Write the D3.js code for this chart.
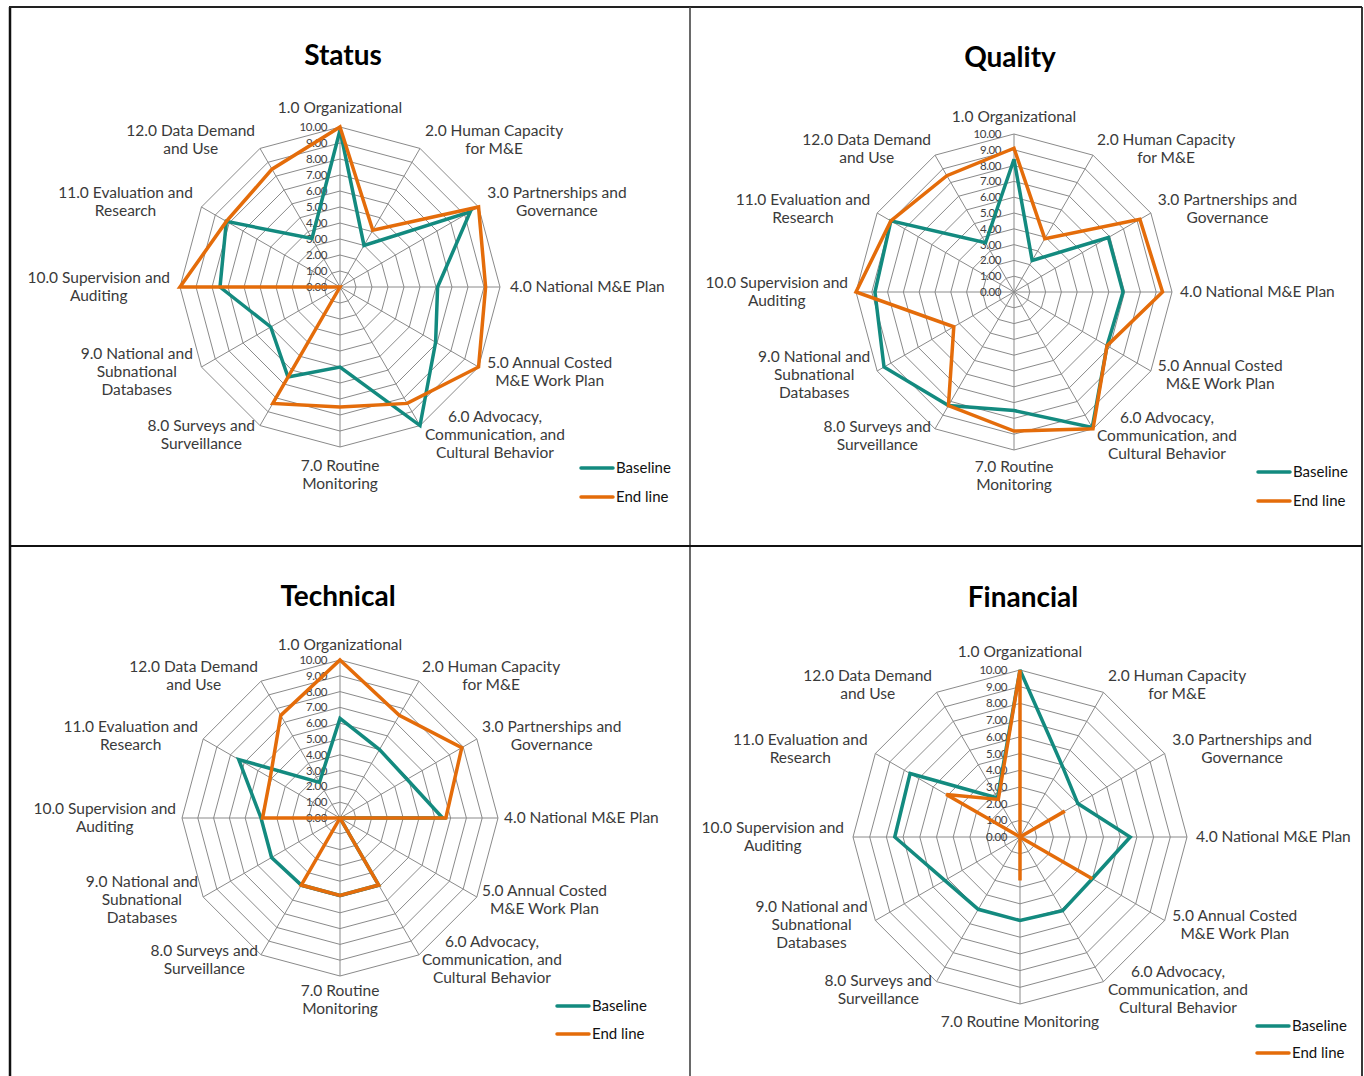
<!DOCTYPE html>
<html>
<head>
<meta charset="utf-8">
<script src="https://cdnjs.cloudflare.com/ajax/libs/d3/7.8.5/d3.min.js"></script>
<style>
  html, body { margin: 0; padding: 0; background: #ffffff; }
  svg { display: block; }
</style>
</head>
<body>
<svg id="chart" width="1364" height="1076"></svg>
<script>
// ---------------- DATA ----------------
const categories = [
  "1.0 Organizational",
  "2.0 Human Capacity for M&E",
  "3.0 Partnerships and Governance",
  "4.0 National M&E Plan",
  "5.0 Annual Costed M&E Work Plan",
  "6.0 Advocacy, Communication, and Cultural Behavior",
  "7.0 Routine Monitoring",
  "8.0 Surveys and Surveillance",
  "9.0 National and Subnational Databases",
  "10.0 Supervision and Auditing",
  "11.0 Evaluation and Research",
  "12.0 Data Demand and Use"
];
const categoryLines = [
  ["1.0 Organizational"],
  ["2.0 Human Capacity", "for M&E"],
  ["3.0 Partnerships and", "Governance"],
  ["4.0 National M&E Plan"],
  ["5.0 Annual Costed", "M&E Work Plan"],
  ["6.0 Advocacy,", "Communication, and", "Cultural Behavior"],
  ["7.0 Routine", "Monitoring"],
  ["8.0 Surveys and", "Surveillance"],
  ["9.0 National and", "Subnational", "Databases"],
  ["10.0 Supervision and", "Auditing"],
  ["11.0 Evaluation and", "Research"],
  ["12.0 Data Demand", "and Use"]
];
const categoryLinesFinancial = categoryLines.map((l, i) => i === 6 ? ["7.0 Routine Monitoring"] : l);

const seriesNames = ["Baseline", "End line"];
const tickValues = [0, 1, 2, 3, 4, 5, 6, 7, 8, 9, 10];
const tickLabels = ["0.00", "1.00", "2.00", "3.00", "4.00", "5.00", "6.00", "7.00", "8.00", "9.00", "10.00"];

const statusBaseline    = [9.8, 3.0, 9.4, 6.1, 6.9, 10.0, 5.0, 6.5, 5.0, 7.5, 8.2, 3.5];
const statusEndline     = [10.0, 4.1, 10.0, 9.1, 10.0, 8.4, 7.5, 8.4, 0.0, 10.0, 8.2, 8.5];
const qualityBaseline   = [8.4, 2.3, 6.9, 6.9, 6.8, 9.9, 7.5, 8.3, 9.5, 8.8, 9.0, 3.6];
const qualityEndline    = [9.1, 3.9, 9.2, 9.4, 6.8, 10.0, 8.8, 8.3, 4.4, 10.0, 9.0, 8.5];
const technicalBaseline = [6.3, 5.0, 4.9, 6.5, 0.0, 4.9, 4.9, 4.9, 5.0, 5.0, 7.4, 2.6];
const technicalEndline  = [10.0, 7.5, 8.9, 6.7, 0.0, 4.9, 4.9, 4.9, 0.0, 4.9, 5.1, 7.5];
const financialBaseline = [10.0, 5.0, 4.0, 6.6, 5.0, 5.1, 5.0, 5.0, 5.2, 7.5, 7.6, 2.7];
const financialEndline  = [10.0, 0.0, 3.1, 0.0, 5.0, 0.0, 2.6, 0.0, 0.0, 0.0, 5.1, 2.6];

// ---------------- LAYOUT ----------------
const colors = ["#138a7f", "#e46c0a"];
const gridColor = "#8a8a8a";
const labelFont = "Lato, 'Open Sans', sans-serif";

const panels = [
  { title: "Status",    tx: 343,  ty: 55,  cx: 340,  cy: 287, r: 160, gap: 10, lx: 581,  ly: 468, ldy: 29,
    values: [statusBaseline, statusEndline], labels: categoryLines },
  { title: "Quality",   tx: 1010, ty: 57,  cx: 1014, cy: 292, r: 158, gap: 8, lx: 1258, ly: 472, ldy: 29,
    values: [qualityBaseline, qualityEndline], labels: categoryLines },
  { title: "Technical", tx: 338,  ty: 596, cx: 340,  cy: 818, r: 158, gap: 6, lx: 557,  ly: 1006, ldy: 28,
    values: [technicalBaseline, technicalEndline], labels: categoryLines },
  { title: "Financial", tx: 1023, ty: 597, cx: 1020, cy: 837, r: 167, gap: 9, lx: 1257, ly: 1026, ldy: 27,
    values: [financialBaseline, financialEndline], labels: categoryLinesFinancial }
];

const svg = d3.select("#chart");

// frame
const frame = svg.append("g");
frame.append("line").attr("x1", 10).attr("y1", 7).attr("x2", 10).attr("y2", 1076)
  .attr("stroke", "#111").attr("stroke-width", 2.5);
frame.append("line").attr("x1", 9).attr("y1", 7).attr("x2", 1362).attr("y2", 7)
  .attr("stroke", "#222").attr("stroke-width", 1.8);
frame.append("line").attr("x1", 1362).attr("y1", 7).attr("x2", 1362).attr("y2", 1076)
  .attr("stroke", "#222").attr("stroke-width", 1.8);
frame.append("line").attr("x1", 690).attr("y1", 7).attr("x2", 690).attr("y2", 1076)
  .attr("stroke", "#444").attr("stroke-width", 1.6);
frame.append("line").attr("x1", 10).attr("y1", 546).attr("x2", 1362).attr("y2", 546)
  .attr("stroke", "#111").attr("stroke-width", 2);

const n = categories.length;
const angle = d3.scaleLinear().domain([0, n]).range([0, 2 * Math.PI]);

panels.forEach(p => {
  const g = svg.append("g").attr("transform", `translate(${p.cx},${p.cy})`);
  const rScale = d3.scaleLinear().domain([0, 10]).range([0, p.r]);

  // rings
  const ringLine = d3.lineRadial()
    .angle((d, i) => angle(i))
    .radius(d => rScale(d))
    .curve(d3.curveLinearClosed);
  tickValues.filter(v => v > 0).forEach(v => {
    g.append("path")
      .attr("d", ringLine(d3.range(n).map(() => v)))
      .attr("fill", "none").attr("stroke", gridColor).attr("stroke-width", 1);
  });
  // spokes
  d3.range(n).forEach(i => {
    const a = angle(i);
    g.append("line")
      .attr("x1", 0).attr("y1", 0)
      .attr("x2", rScale(10) * Math.sin(a)).attr("y2", -rScale(10) * Math.cos(a))
      .attr("stroke", gridColor).attr("stroke-width", 1);
  });

  // tick labels
  g.selectAll("text.tick").data(tickValues).enter().append("text")
    .attr("class", "tick")
    .attr("x", -13)
    .attr("y", d => -rScale(d))
    .attr("dy", "0.35em")
    .attr("text-anchor", "end")
    .attr("font-family", labelFont)
    .attr("font-size", 11.5)
    .attr("letter-spacing", -0.4)
    .attr("fill", "#404040")
    .text((d, i) => tickLabels[i]);

  // series
  p.values.forEach((vals, si) => {
    g.append("path")
      .attr("d", ringLine(vals))
      .attr("fill", "none")
      .attr("stroke", colors[si])
      .attr("stroke-width", 3.5)
      .attr("stroke-linejoin", "miter")
      .attr("stroke-miterlimit", 3);
  });

  // category labels
  const lh = 18;
  p.labels.forEach((lines, i) => {
    const a = angle(i);
    const s = Math.sin(a), c = Math.cos(a);
    const px = (p.r + p.gap) * s, py = -(p.r + p.gap) * c;
    const t = g.append("text")
      .attr("font-family", labelFont)
      .attr("font-size", 15.5)
      .attr("fill", "#3a3a3a")
      .attr("text-anchor", "middle");
    const tsp = lines.map(l => t.append("tspan").text(l));
    const w = d3.max(tsp, ts => ts.node().getComputedTextLength());
    const h = lines.length * lh;
    let bx, yc;
    if (Math.abs(s) < 0.01) {
      bx = px;
      yc = c > 0 ? py - h / 2 : py + h / 2;
    } else {
      bx = s > 0 ? px + w / 2 : px - w / 2;
      yc = py;
    }
    tsp.forEach((ts, k) => {
      ts.attr("x", bx).attr("y", yc + (k - (lines.length - 1) / 2) * lh).attr("dy", "0.35em");
    });
  });

  // title
  svg.append("text")
    .attr("x", p.tx).attr("y", p.ty)
    .attr("dy", "0.35em")
    .attr("text-anchor", "middle")
    .attr("font-family", labelFont)
    .attr("font-weight", 700)
    .attr("font-size", 28)
    .attr("fill", "#000")
    .text(p.title);

  // legend
  seriesNames.forEach((name, si) => {
    const y = p.ly + si * p.ldy;
    svg.append("line")
      .attr("x1", p.lx).attr("x2", p.lx + 32)
      .attr("y1", y).attr("y2", y)
      .attr("stroke", colors[si]).attr("stroke-width", 3.5)
      .attr("stroke-linecap", "round");
    svg.append("text")
      .attr("x", p.lx + 35).attr("y", y)
      .attr("dy", "0.35em")
      .attr("font-family", labelFont)
      .attr("font-size", 15)
      .attr("fill", "#111")
      .text(name);
  });
});
</script>
</body>
</html>
